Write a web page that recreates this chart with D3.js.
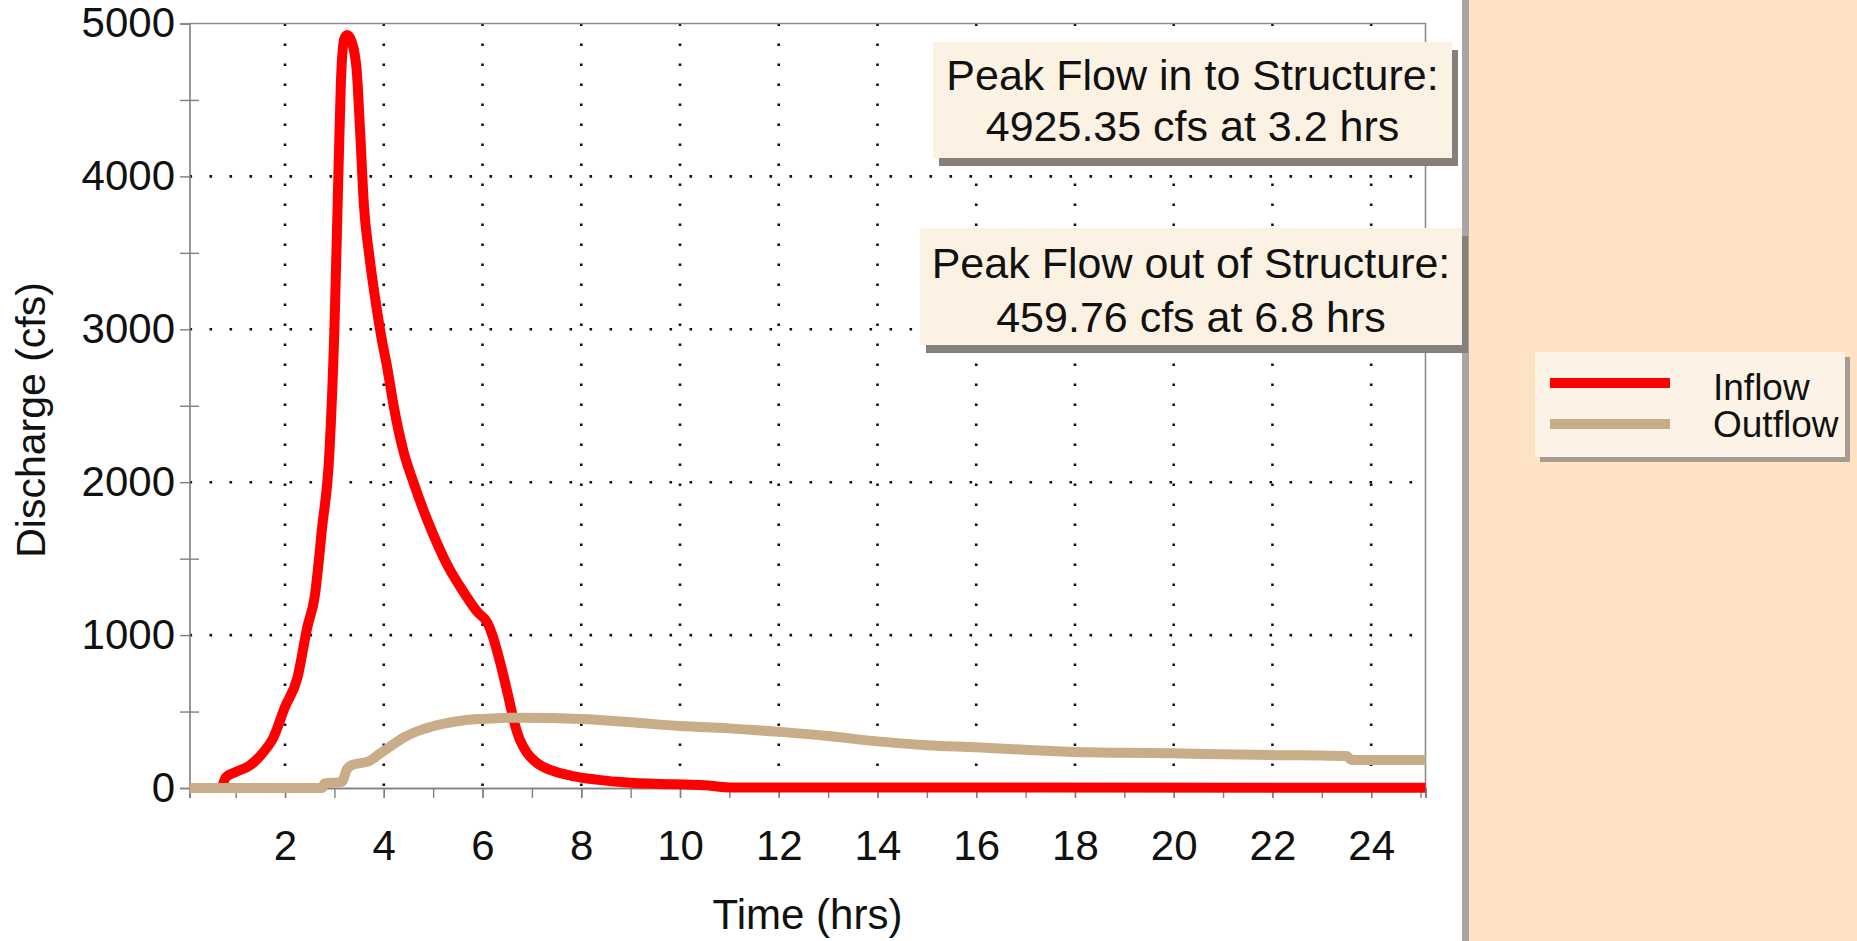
<!DOCTYPE html>
<html>
<head>
<meta charset="utf-8">
<script src="https://cdn.jsdelivr.net/npm/d3@7"></script>
<style>
    body { margin: 0; background: #fff; }
    svg text { font-family: "Liberation Sans", Arial, sans-serif; fill: #111; }
</style>
</head>
<body>
<svg id="chart" width="1857" height="941"></svg>
<script>
const inflowTime = [0.065, 0.7, 0.8, 1.0, 1.3, 1.55, 1.75, 2.0, 2.25, 2.45, 2.6, 2.75, 2.9, 3.0, 3.08, 3.13, 3.2, 3.26, 3.35, 3.45, 3.52, 3.6, 3.7, 3.85, 3.95, 4.07, 4.2, 4.4, 4.6, 4.8, 5.0, 5.3, 5.6, 5.9, 6.1, 6.2, 6.3, 6.45, 6.55, 6.65, 6.75, 6.9, 7.1, 7.4, 7.8, 8.3, 9.0, 9.5, 10.5, 11.0, 25.1];
const inflow = [0, 0, 70, 105, 150, 230, 320, 530, 720, 1050, 1250, 1700, 2200, 3000, 4000, 4600, 4900, 4925, 4880, 4700, 4300, 3800, 3500, 3150, 2950, 2750, 2500, 2200, 2000, 1820, 1660, 1450, 1290, 1150, 1080, 1000, 890, 700, 560, 420, 320, 230, 165, 115, 80, 55, 35, 28, 18, 4, 2];

const outflowTime = [0.065, 2.75, 2.8, 3.15, 3.25, 3.35, 3.7, 3.9, 4.1, 4.4, 4.8, 5.2, 5.6, 6.0, 6.8, 8.0, 9.0, 10, 11, 12, 13, 14, 15, 16, 17, 18, 19, 20, 21, 22, 23, 23.5, 23.6, 25.1];
const outflow = [0, 0, 30, 40, 120, 150, 175, 220, 265, 330, 385, 420, 442, 452, 460, 452, 430, 405, 390, 367, 340, 305, 280, 266, 250, 235, 230, 227, 220, 215, 212, 210, 183, 183];

const xMajor = [2, 4, 6, 8, 10, 12, 14, 16, 18, 20, 22, 24];
const xMinor = d3.range(1, 26);
const yMajor = [0, 1000, 2000, 3000, 4000, 5000];
const yMinor = [500, 1500, 2500, 3500, 4500];

const peakLabels = [
    ["Peak Flow in to Structure:", "4925.35 cfs at 3.2 hrs"],
    ["Peak Flow out of Structure:", "459.76 cfs at 6.8 hrs"]
];
const seriesNames = ["Inflow", "Outflow"];
const seriesColors = ["#ff0000", "#c9ad88"];

const svg = d3.select("#chart");

const x = d3.scaleLinear().domain([0.065, 25.1]).range([189.5, 1425.5]);
const y = d3.scaleLinear().domain([0, 5000]).range([788, 23.5]);

// right panel
svg.append("rect").attr("x", 1469).attr("y", 0).attr("width", 388).attr("height", 941).attr("fill", "#fde2c3");
svg.append("rect").attr("x", 1462).attr("y", 0).attr("width", 7).attr("height", 941).attr("fill", "#a8a4a7");

// dotted grid
const grid = svg.append("g")
    .attr("stroke", "#111")
    .attr("stroke-width", 2.6)
    .attr("stroke-dasharray", "2.6 17.4");

grid.selectAll(".vgrid")
    .data(xMajor)
    .enter().append("line")
    .attr("x1", d => x(d)).attr("x2", d => x(d))
    .attr("y1", y(5000)).attr("y2", y(0));

grid.selectAll(".hgrid")
    .data(yMajor.slice(1, -1))
    .enter().append("line")
    .attr("y1", d => y(d)).attr("y2", d => y(d))
    .attr("x1", x.range()[0]).attr("x2", x.range()[1]);

// frame
svg.append("path")
    .attr("d", `M${x.range()[0]},${y(5000)}H${x.range()[1]}V${y(0)}`)
    .attr("fill", "none")
    .attr("stroke", "#8c8c8c")
    .attr("stroke-width", 1.6);

// axes
const styleAxis = g => {
    g.select(".domain").attr("stroke", "#7f7f7f").attr("stroke-width", 1.6);
    g.selectAll(".tick line").attr("stroke", "#7f7f7f").attr("stroke-width", 1.4);
    g.selectAll("text").style("font-size", "42px").attr("fill", "#111");
};

svg.append("g")
    .attr("transform", `translate(0,${y(0)})`)
    .call(d3.axisBottom(x).tickValues(xMinor).tickSize(10).tickFormat(""))
    .call(styleAxis);

svg.append("g")
    .attr("transform", `translate(0,${y(0)})`)
    .call(d3.axisBottom(x).tickValues(xMajor).tickSize(10).tickPadding(32))
    .call(styleAxis);

svg.append("g")
    .attr("transform", `translate(${x.range()[0]},0)`)
    .call(d3.axisLeft(y).tickValues(yMajor).tickSize(9.5).tickPadding(5).tickFormat(d3.format("d")))
    .call(styleAxis);

svg.append("g")
    .attr("transform", `translate(${x.range()[0] + 9.5},0)`)
    .call(d3.axisLeft(y).tickValues(yMinor).tickSize(19).tickFormat(""))
    .call(styleAxis)
    .call(g => g.select(".domain").remove());

// axis titles
svg.append("text")
    .attr("x", (x.range()[0] + x.range()[1]) / 2)
    .attr("y", 929)
    .attr("text-anchor", "middle")
    .style("font-size", "42px")
    .text("Time (hrs)");

svg.append("text")
    .attr("transform", "translate(45,420) rotate(-90)")
    .attr("text-anchor", "middle")
    .style("font-size", "41px")
    .text("Discharge (cfs)");

// series
const series = [
    inflowTime.map((t, i) => [t, inflow[i]]),
    outflowTime.map((t, i) => [t, outflow[i]])
];

const line = d3.line()
    .x(d => x(d[0]))
    .y(d => y(d[1]))
    .curve(d3.curveMonotoneX);

svg.selectAll(".series")
    .data(series)
    .enter().append("path")
    .attr("class", "series")
    .attr("d", line)
    .attr("fill", "none")
    .attr("stroke", (d, i) => seriesColors[i])
    .attr("stroke-width", 10)
    .attr("stroke-linejoin", "round");

// peak boxes
const boxes = [
    { x: 933, y: 42, w: 519, h: 116, base: [90, 141] },
    { x: 920, y: 228, w: 542, h: 117, base: [278, 332] }
];

boxes.forEach((b, i) => {
    const g = svg.append("g");
    g.append("rect")
        .attr("x", b.x + 6).attr("y", b.y + 8)
        .attr("width", b.w).attr("height", b.h)
        .attr("fill", "#86807d");
    g.append("rect")
        .attr("x", b.x).attr("y", b.y)
        .attr("width", b.w).attr("height", b.h)
        .attr("fill", "#fbf2e4");
    peakLabels[i].forEach((txt, j) => {
        g.append("text")
            .attr("x", b.x + b.w / 2)
            .attr("y", b.base[j])
            .attr("text-anchor", "middle")
            .style("font-size", "43px")
            .text(txt);
    });
});

// legend
const legend = svg.append("g").attr("transform", "translate(1535,352)");
legend.append("rect").attr("x", 5).attr("y", 5).attr("width", 310).attr("height", 105).attr("fill", "#a69c94");
legend.append("rect").attr("width", 310).attr("height", 105).attr("fill", "#fcf3e6");

seriesNames.forEach((name, i) => {
    legend.append("line")
        .attr("x1", 15).attr("x2", 135)
        .attr("y1", 31 + i * 41).attr("y2", 31 + i * 41)
        .attr("stroke", seriesColors[i])
        .attr("stroke-width", 10);
    legend.append("text")
        .attr("x", 178)
        .attr("y", 48 + i * 37)
        .style("font-size", "37px")
        .text(name);
});
</script>
</body>
</html>
